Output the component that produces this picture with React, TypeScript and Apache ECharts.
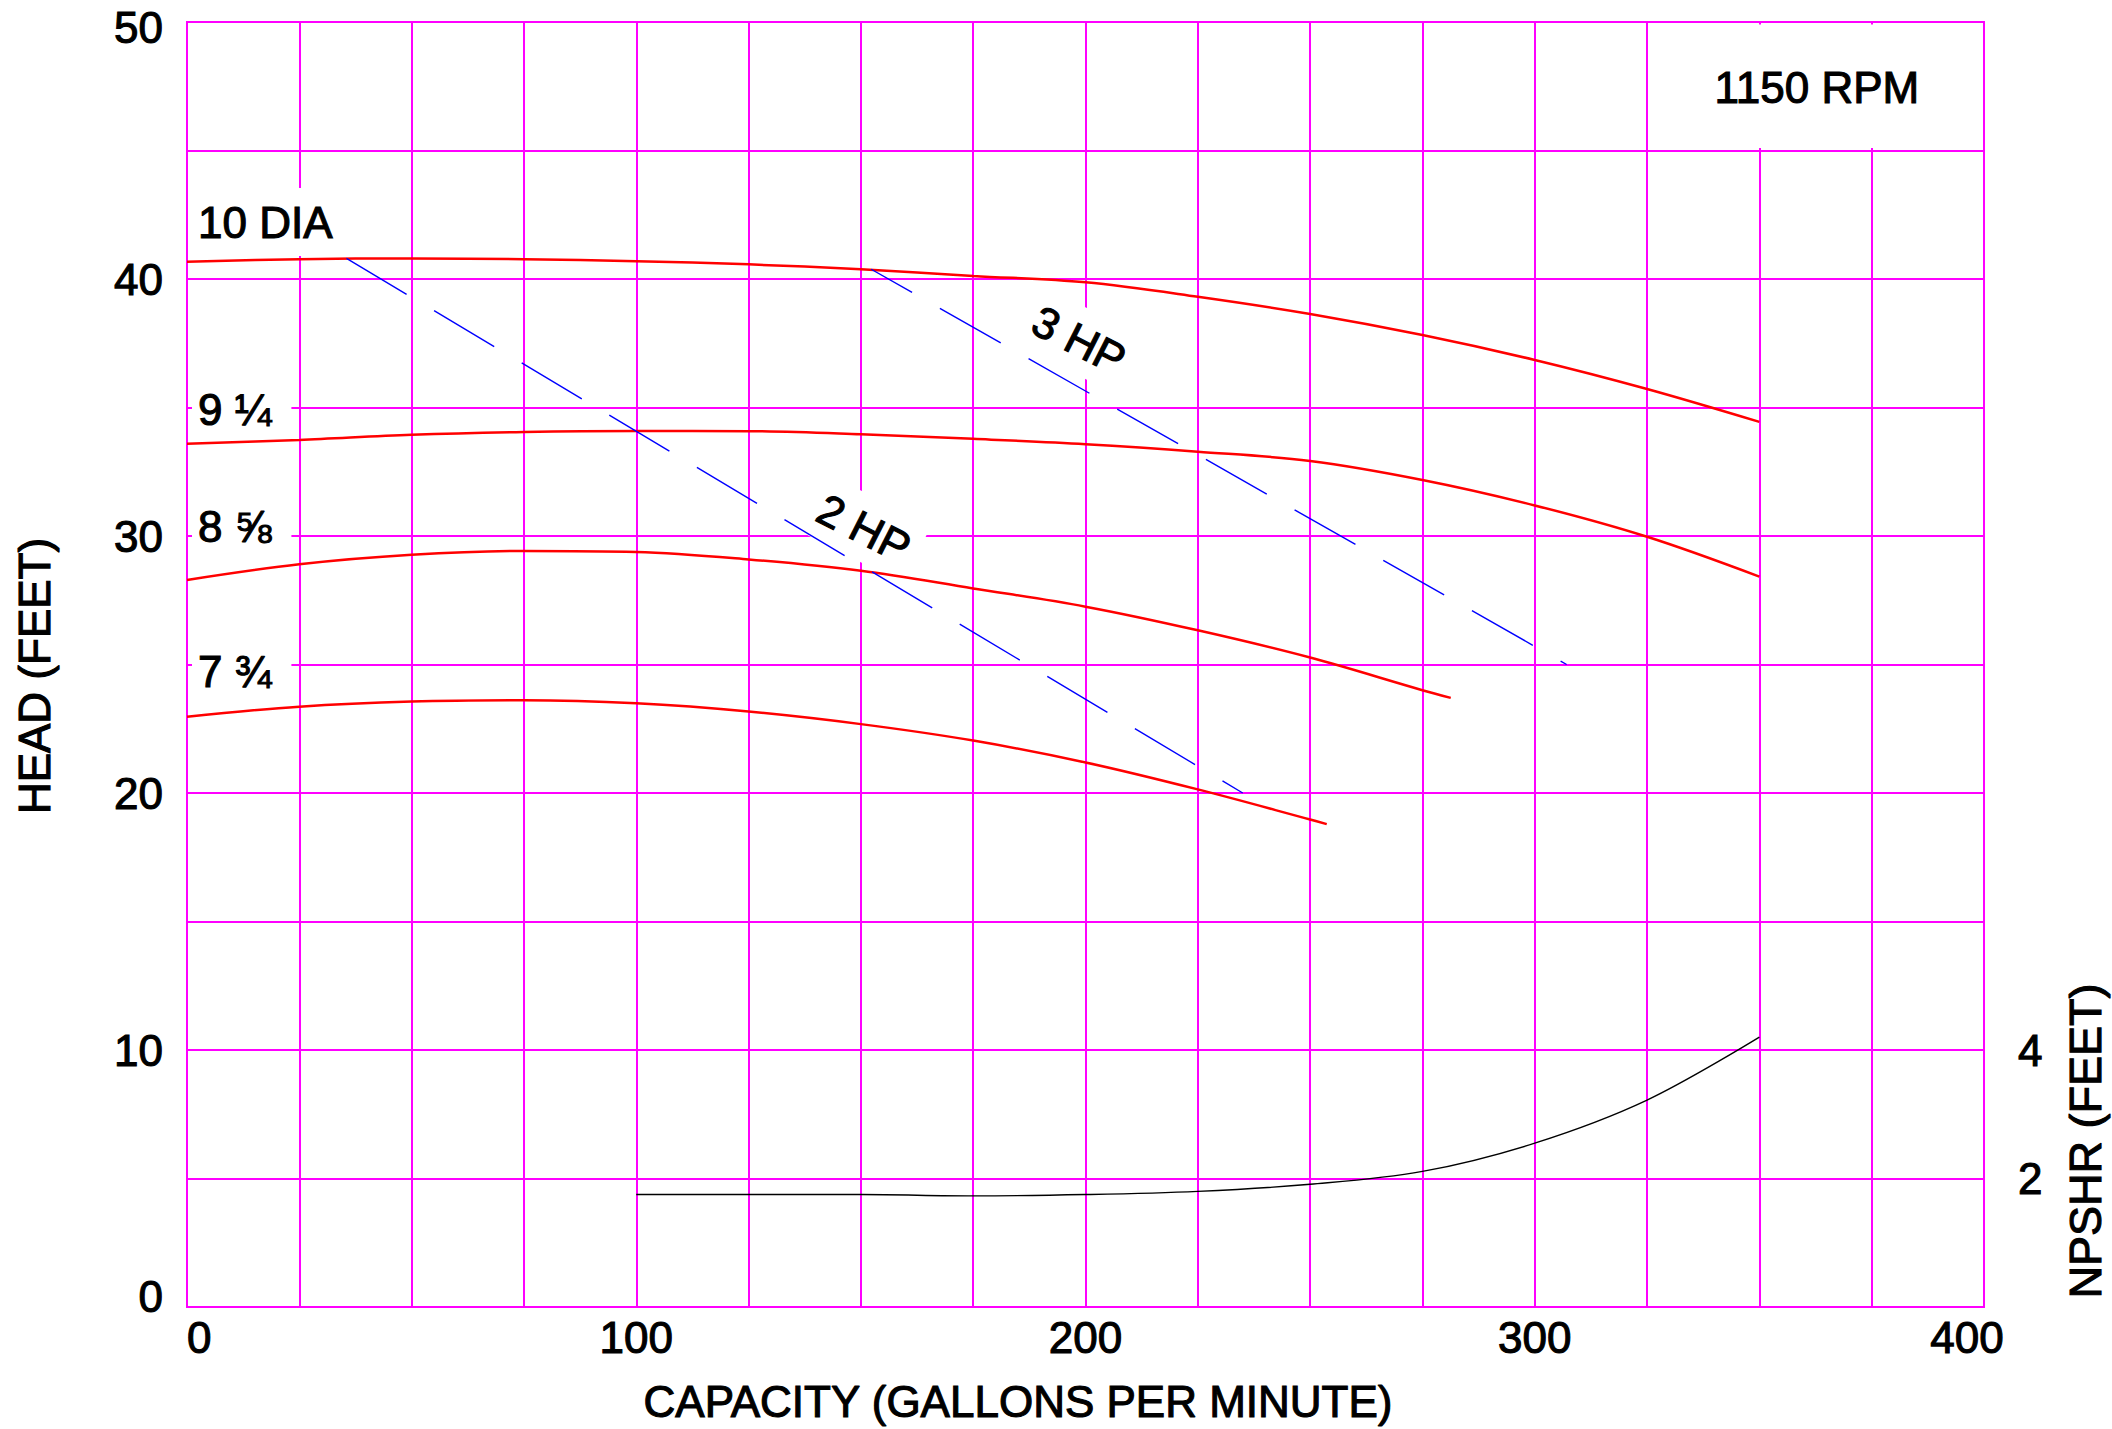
import React, { useEffect, useRef } from "react";
import * as echarts from "echarts";

// ---- axis tick labels ----
const capacityLabels = [0, 100, 200, 300, 400];
const headLabels = [0, 10, 20, 30, 40, 50];
const npshrLabels = [2, 4];

// ---- impeller head curves: [capacity (GPM), head (ft)] ----
const dia10: number[][] = [
  [0, 40.67], [25, 40.77], [50, 40.8], [75, 40.77], [100, 40.69], [125, 40.57], [150, 40.38],
  [175, 40.12], [200, 39.87], [225, 39.31], [250, 38.64], [275, 37.82], [300, 36.85], [325, 35.72], [350, 34.44],
];
const dia9q: number[][] = [
  [0, 33.59], [25, 33.74], [50, 33.94], [75, 34.05], [100, 34.09], [125, 34.08], [150, 33.96],
  [175, 33.78], [200, 33.57], [225, 33.28], [250, 32.92], [275, 32.18], [300, 31.19], [325, 29.97], [350, 28.42],
];
const dia8f: number[][] = [
  [0, 28.29], [25, 28.9], [50, 29.27], [75, 29.42], [100, 29.38], [125, 29.09], [150, 28.65],
  [175, 27.96], [200, 27.25], [225, 26.33], [250, 25.27], [275, 24.0], [281.3, 23.7],
];
const dia7t: number[][] = [
  [0, 22.97], [25, 23.36], [50, 23.56], [75, 23.61], [100, 23.49], [125, 23.17], [150, 22.68],
  [175, 22.04], [200, 21.19], [225, 20.14], [250, 18.97], [253.7, 18.79],
];
// ---- NPSHR curve: [capacity, NPSHR (ft)] ----
const npshr: number[][] = [
  [100, 1.75], [125, 1.75], [150, 1.75], [175, 1.73], [200, 1.75], [225, 1.8], [250, 1.91],
  [275, 2.11], [300, 2.55], [325, 3.22], [350, 4.2],
];
// ---- horsepower lines ----
const hp2: number[][] = [[35.5, 40.8], [235, 20.0]];
const hp3: number[][] = [[152.3, 40.38], [307.1, 25.0]];

// ---- annotation anchors (data coords) ----
const curveTags = [
  { name: "10 DIA", at: [2.45, 41.98] },
  { name: "9 ¼", at: [2.45, 34.94] },
  { name: "8 ⅝", at: [2.45, 30.36] },
  { name: "7 ¾", at: [2.45, 24.72] },
];
const hpTags = [
  { name: "3 HP", at: [198.6, 37.63] },
  { name: "2 HP", at: [150.7, 30.31] },
];
const speedTag = { name: "1150 RPM", at: [362.8, 47.47] };
const speedBox = [[325.4, 45.1], [399.6, 49.9]];

const FONT = "'Liberation Sans', Arial, Helvetica, sans-serif";
const MAGENTA = "#ff00ff";
const TXT = {
  fontSize: 44,
  fontFamily: FONT,
  fontWeight: "normal" as const,
  color: "#000000",
  textBorderColor: "#000000",
  textBorderWidth: 1.1,
};

export default function App() {
  const ref = useRef<HTMLDivElement>(null);

  useEffect(() => {
    document.body.style.margin = "0";
    document.body.style.overflow = "hidden";
    const chart = echarts.init(ref.current!, null, { renderer: "svg" });

    const redLine = (name: string, data: number[][]) => ({
      type: "line",
      name,
      data,
      smooth: 0.35,
      symbol: "none",
      z: 3,
      lineStyle: { color: "#ff0000", width: 2.5 },
    });

    const tagData = [
      ...curveTags.map((t) => ({
        name: t.name,
        value: t.at,
        label: {
          ...TXT,
          opacity: 1,
          align: "left",
          verticalAlign: "middle",
          backgroundColor: "#ffffff",
          padding: t.name === "10 DIA" ? [18, 6, 6, 6] : [4, 20, 4, 6],
          offset: t.name === "10 DIA" ? [-6, -6] : [-6, 0],
        },
      })),
      ...hpTags.map((t) => ({
        name: t.name,
        value: t.at,
        label: {
          ...TXT,
          opacity: 1,
          align: "center",
          verticalAlign: "middle",
          rotate: -27,
          backgroundColor: "#ffffff",
          padding: [10, 10, 10, 10],
        },
      })),
      {
        name: speedTag.name,
        value: speedTag.at,
        label: { ...TXT, opacity: 1, align: "center", verticalAlign: "middle" },
      },
    ];

    const axisText = (extra: object) => ({
      type: "text",
      ...extra,
    });

    const nameStyle = (text: string, size: number) => ({
      text,
      fontSize: size,
      fontFamily: FONT,
      fill: "#000000",
      stroke: "#000000",
      lineWidth: 1.1,
      align: "center",
      verticalAlign: "middle",
    });

    chart.setOption({
      animation: false,
      backgroundColor: "#ffffff",
      grid: {
        left: 187,
        top: 22,
        right: 128,
        bottom: 122,
        show: true,
        borderColor: MAGENTA,
        borderWidth: 2,
      },
      xAxis: {
        type: "value",
        min: 0,
        max: 400,
        interval: 25,
        axisLine: { show: false },
        axisTick: { show: false },
        splitLine: { show: true, lineStyle: { color: MAGENTA, width: 2 } },
        axisLabel: {
          ...TXT,
          margin: 8,
          alignMinLabel: "left",
          formatter: (v: number) =>
            v === 400 ? "{hi|400}" : capacityLabels.includes(v) ? String(v) : "",
          rich: { hi: { ...TXT, padding: [0, 34, 0, 0] } },
        },
      },
      yAxis: [
        {
          type: "value",
          min: 0,
          max: 50,
          interval: 5,
          axisLine: { show: false },
          axisTick: { show: false },
          splitLine: { show: true, lineStyle: { color: MAGENTA, width: 2 } },
          axisLabel: {
            ...TXT,
            margin: 24,
            formatter: (v: number) =>
              v === 50 ? "{hi|50}" : v === 0 ? "{lo|0}" : headLabels.includes(v) ? String(v) : "",
            rich: {
              hi: { ...TXT, padding: [10, 0, 0, 0] },
              lo: { ...TXT, padding: [0, 0, 22, 0] },
            },
          },
        },
        {
          type: "value",
          position: "right",
          min: 0,
          max: 20,
          interval: 2,
          axisLine: { show: false },
          axisTick: { show: false },
          splitLine: { show: false },
          axisLabel: {
            ...TXT,
            margin: 34,
            formatter: (v: number) => (npshrLabels.includes(v) ? String(v) : ""),
          },
        },
      ],
      graphic: [
        axisText({ x: 1018, y: 1401, style: nameStyle("CAPACITY (GALLONS PER MINUTE)", 44) }),
        axisText({ x: 34, y: 676, rotation: Math.PI / 2, style: nameStyle("HEAD (FEET)", 44) }),
        axisText({ x: 2085, y: 1141, rotation: Math.PI / 2, style: nameStyle("NPSHR (FEET)", 45) }),
      ],
      series: [
        {
          type: "scatter",
          name: "tags",
          z: 1,
          silent: true,
          symbolSize: 1,
          itemStyle: { color: "#000000", opacity: 0 },
          label: {
            show: true,
            position: "inside",
            formatter: "{b}",
            ...TXT,
            opacity: 1,
          },
          data: tagData,
          markArea: {
            silent: true,
            itemStyle: { color: "#ffffff", borderWidth: 0, opacity: 1 },
            label: { show: false },
            data: [[{ coord: speedBox[0] }, { coord: speedBox[1] }]],
          },
        },
        redLine("10 DIA", dia10),
        redLine("9 1/4", dia9q),
        redLine("8 5/8", dia8f),
        redLine("7 3/4", dia7t),
        {
          type: "line",
          name: "NPSHR",
          yAxisIndex: 1,
          data: npshr,
          smooth: 0.35,
          symbol: "none",
          z: 3,
          lineStyle: { color: "#000000", width: 1.4 },
        },
        {
          type: "line",
          name: "2 HP",
          data: hp2,
          symbol: "none",
          z: 3,
          lineStyle: { color: "#0000ff", width: 1.4, type: [70, 32] },
        },
        {
          type: "line",
          name: "3 HP",
          data: hp3,
          symbol: "none",
          z: 3,
          lineStyle: { color: "#0000ff", width: 1.4, type: [70, 32], dashOffset: 23 },
        },
      ],
    });

    return () => chart.dispose();
  }, []);

  return <div ref={ref} style={{ width: 2112, height: 1429 }} />;
}
